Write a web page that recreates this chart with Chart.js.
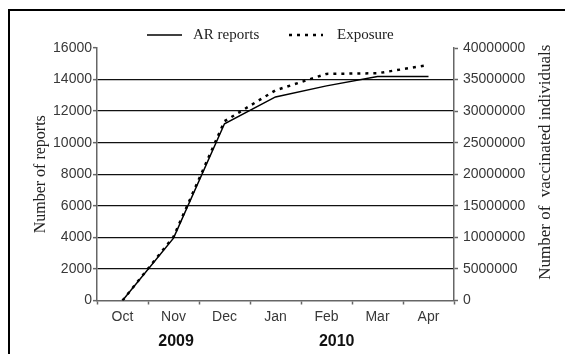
<!DOCTYPE html>
<html>
<head>
<meta charset="utf-8">
<script src="https://cdn.jsdelivr.net/npm/chart.js@4/dist/chart.umd.min.js"></script>
<style>
  html, body { margin: 0; padding: 0; background: #fff; }
  canvas { display: block; }
</style>
</head>
<body>
<canvas id="chart" width="565" height="354"></canvas>
<script>
// Monthly cumulative counts, October 2009 to April 2010
const months = ['Oct', 'Nov', 'Dec', 'Jan', 'Feb', 'Mar', 'Apr'];
const arReports = [0, 3950, 11200, 12900, 13600, 14200, 14200];
const exposure = [0, 10100000, 28400000, 33300000, 35900000, 36000000, 37300000];

const reportRange = { min: 0, max: 16000, step: 2000 };
const exposureRange = { min: 0, max: 40000000, step: 5000000 };

const seriesNames = ['AR reports', 'Exposure'];
const leftTitle = 'Number of reports';
const rightTitle = 'Number of  vaccinated individuals';

// Year captions under the month axis, placed at a category index
const years = ['2009', '2010'];
const yearAt = [1.05, 4.2];

const AXIS = '#666';
const TEXT = '#383838';
const SERIF = '"Liberation Serif", "Times New Roman", serif';
const SANS = '"Liberation Sans", Arial, sans-serif';
const DOTS = [3, 5];
const plain = (v) => String(v);

const decorations = {
  id: 'decorations',
  beforeDraw(chart) {
    const ctx = chart.ctx;
    ctx.save();
    ctx.fillStyle = '#fff';
    ctx.fillRect(0, 0, chart.width, chart.height);
    // frame around the figure
    ctx.strokeStyle = '#000';
    ctx.lineWidth = 2;
    ctx.beginPath();
    ctx.moveTo(9, chart.height);
    ctx.lineTo(9, 10);
    ctx.lineTo(chart.width, 10);
    ctx.stroke();
    ctx.restore();
  },
  afterDraw(chart) {
    const ctx = chart.ctx;
    const area = chart.chartArea;
    ctx.save();

    // legend
    const ly = 35;
    ctx.strokeStyle = '#000';
    ctx.lineWidth = 1.5;
    ctx.setLineDash([]);
    ctx.beginPath();
    ctx.moveTo(147, ly);
    ctx.lineTo(182, ly);
    ctx.stroke();
    ctx.lineWidth = 2.5;
    ctx.setLineDash(DOTS);
    ctx.beginPath();
    ctx.moveTo(289, ly);
    ctx.lineTo(323, ly);
    ctx.stroke();
    ctx.setLineDash([]);
    ctx.fillStyle = '#222';
    ctx.font = '15px ' + SERIF;
    ctx.textBaseline = 'middle';
    ctx.textAlign = 'left';
    ctx.fillText(seriesNames[0], 193, ly);
    ctx.fillText(seriesNames[1], 337, ly);

    // years
    const xs = chart.scales.x;
    ctx.fillStyle = '#111';
    ctx.font = 'bold 16px ' + SANS;
    ctx.textAlign = 'center';
    years.forEach((y, i) => {
      ctx.fillText(y, xs.getPixelForValue(yearAt[i]), 342);
    });

    // right axis title, reading bottom to top
    ctx.fillStyle = '#222';
    ctx.font = '17px ' + SERIF;
    ctx.translate(546, (area.top + area.bottom) / 2 - 12);
    ctx.rotate(-Math.PI / 2);
    ctx.fillText(rightTitle, 0, 0);
    ctx.restore();
  }
};

new Chart(document.getElementById('chart'), {
  type: 'line',
  data: {
    labels: months,
    datasets: [
      {
        label: seriesNames[0],
        data: arReports,
        yAxisID: 'y',
        borderColor: '#000',
        borderWidth: 1.5,
        pointRadius: 0,
        tension: 0,
        fill: false
      },
      {
        label: seriesNames[1],
        data: exposure,
        yAxisID: 'y2',
        borderColor: '#000',
        borderWidth: 2.5,
        borderDash: DOTS,
        pointRadius: 0,
        tension: 0,
        fill: false
      }
    ]
  },
  options: {
    responsive: false,
    animation: false,
    devicePixelRatio: 1,
    layout: { padding: { left: 27, right: 0, top: 48, bottom: 0 } },
    plugins: {
      legend: { display: false },
      tooltip: { enabled: false }
    },
    scales: {
      x: {
        type: 'category',
        offset: true,
        grid: {
          offset: true,
          drawOnChartArea: false,
          tickLength: 4,
          tickColor: AXIS,
          tickWidth: 1.5
        },
        border: { color: AXIS, width: 1.5 },
        ticks: {
          color: TEXT,
          font: { family: SANS, size: 14 },
          padding: 4,
          maxRotation: 0,
          autoSkip: false
        },
        afterFit(s) { s.height = 53.5; }
      },
      y: {
        position: 'left',
        min: reportRange.min,
        max: reportRange.max,
        ticks: {
          stepSize: reportRange.step,
          color: TEXT,
          font: { family: SANS, size: 14 },
          padding: 1,
          callback: plain
        },
        grid: {
          color: (c) => (c.tick && (c.tick.value === reportRange.min || c.tick.value === reportRange.max)) ? 'rgba(0,0,0,0)' : '#111',
          lineWidth: 1.3,
          tickColor: AXIS,
          tickLength: 4,
          tickWidth: 1.5
        },
        border: { color: AXIS, width: 1.5 },
        title: {
          display: true,
          text: leftTitle,
          color: '#222',
          font: { family: SERIF, size: 16 },
          padding: { top: 4, bottom: 0 }
        },
        afterFit(s) { s.width = 70; }
      },
      y2: {
        position: 'right',
        min: exposureRange.min,
        max: exposureRange.max,
        ticks: {
          stepSize: exposureRange.step,
          color: TEXT,
          font: { family: SANS, size: 14 },
          padding: 5,
          callback: plain
        },
        grid: {
          drawOnChartArea: false,
          tickColor: AXIS,
          tickLength: 4,
          tickWidth: 1.5
        },
        border: { color: AXIS, width: 1.5 },
        afterFit(s) { s.width = 111; }
      }
    }
  },
  plugins: [decorations]
});
</script>
</body>
</html>
